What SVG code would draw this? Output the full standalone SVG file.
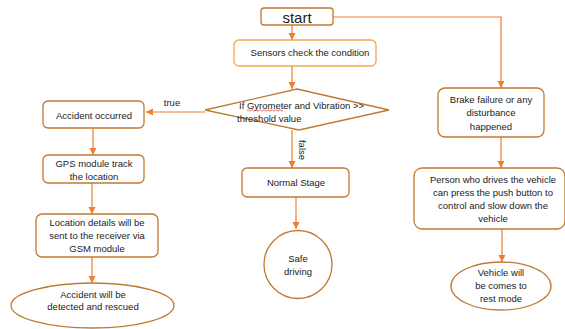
<svg xmlns="http://www.w3.org/2000/svg" width="565" height="329" viewBox="0 0 565 329">
<defs>
<marker id="ah" markerWidth="8" markerHeight="8" refX="7" refY="4" orient="auto" markerUnits="userSpaceOnUse">
<path d="M0,0.5 L7,4 L0,7.5 Z" fill="#ED7D31"/>
</marker>
<style>
.box{fill:#fff;stroke:#C07A30;stroke-width:1.3}
.lt{fill:#fff;stroke:#F2A850;stroke-width:1.3}
.t{font-family:"Liberation Sans",Arial,sans-serif;font-size:9.5px;fill:#222;text-anchor:middle;dominant-baseline:central}
.c{fill:none;stroke:#ED7D31;stroke-width:1.2;marker-end:url(#ah)}
</style>
</defs>
<rect width="565" height="329" fill="#fff"/>
<g id="connectors">
<path class="c" d="M292,25 V40"/>
<path class="c" d="M292,66 V89"/>
<path class="c" d="M205,112 H146"/>
<path class="c" d="M93,128 V155"/>
<path class="c" d="M92,183 V214"/>
<path class="c" d="M92,257 V283"/>
<path class="c" d="M292,130 V168"/>
<path class="c" d="M296,197 V229"/>
<path class="c" d="M333,17 H501 V88"/>
<path class="c" d="M501,137 V168"/>
<path class="c" d="M502,229 V262"/>
<text x="172" y="102" class="t">true</text>
<text class="t" transform="translate(302,150) rotate(90)">false</text>
</g>
<g id="start">
<rect class="box" x="261" y="8" width="72" height="17" rx="3"/>
<text x="297" y="17" class="t" style="font-size:15px">start</text>
</g>
<g id="sensors">
<rect class="lt" x="234" y="40" width="142" height="26" rx="5"/>
<text x="310" y="52" class="t">Sensors check the condition</text>
</g>
<g id="decision">
<path class="box" d="M297,89 L389,110 L299,130 L205,110 Z"/>
<text x="239" y="105" class="t" style="text-anchor:start">If Gyrometer and Vibration &gt;&gt;</text>
<path d="M247,110.5 q1,-1.5 2,0 t2,0 t2,0 t2,0 t2,0 t2,0 t2,0 t2,0 t2,0 t2,0 t2,0 t2,0 t2,0 t2,0 t2,0 t2,0 t2,0 t2,0" fill="none" stroke="#E03030" stroke-width="0.7"/>
<text x="237" y="118" class="t" style="text-anchor:start">threshold value</text>
</g>
<g id="accident">
<rect class="box" x="43" y="101" width="101" height="27" rx="5"/>
<text x="94" y="115" class="t">Accident occurred</text>
</g>
<g id="gps">
<rect class="box" x="43" y="155" width="101" height="28" rx="5"/>
<text x="94" y="163" class="t">GPS module track</text>
<text x="94" y="176" class="t">the location</text>
</g>
<g id="location">
<rect class="box" x="36" y="214" width="122" height="43" rx="6"/>
<text x="97" y="222" class="t">Location details will be</text>
<text x="97" y="235" class="t">sent to the receiver via</text>
<text x="97" y="248" class="t">GSM module</text>
</g>
<g id="rescued">
<ellipse class="box" cx="92.5" cy="305.5" rx="81.5" ry="22.5"/>
<text x="93" y="294" class="t">Accident will be</text>
<text x="93" y="306" class="t">detected and rescued</text>
</g>
<g id="normal">
<rect class="box" x="242" y="168" width="107" height="29" rx="5"/>
<text x="296" y="182" class="t">Normal Stage</text>
</g>
<g id="safe">
<circle class="box" cx="298" cy="264.5" r="34"/>
<text x="298" y="258" class="t">Safe</text>
<text x="298" y="271" class="t">driving</text>
</g>
<g id="brake">
<rect class="box" x="438" y="88" width="106" height="49" rx="7"/>
<text x="491" y="99" class="t">Brake failure or any</text>
<text x="491" y="112" class="t">disturbance</text>
<text x="491" y="126" class="t">happened</text>
</g>
<g id="person">
<rect class="box" x="414" y="168" width="151" height="61" rx="8"/>
<text x="493" y="179" class="t">Person who drives the vehicle</text>
<text x="493" y="192" class="t">can press the push button to</text>
<text x="493" y="205" class="t">control and slow down the</text>
<text x="493" y="218" class="t">vehicle</text>
</g>
<g id="rest">
<ellipse class="box" cx="501" cy="286" rx="50" ry="24"/>
<text x="501" y="272" class="t">Vehicle will</text>
<text x="501" y="285" class="t">be comes to</text>
<text x="501" y="298" class="t">rest mode</text>
</g>
</svg>
